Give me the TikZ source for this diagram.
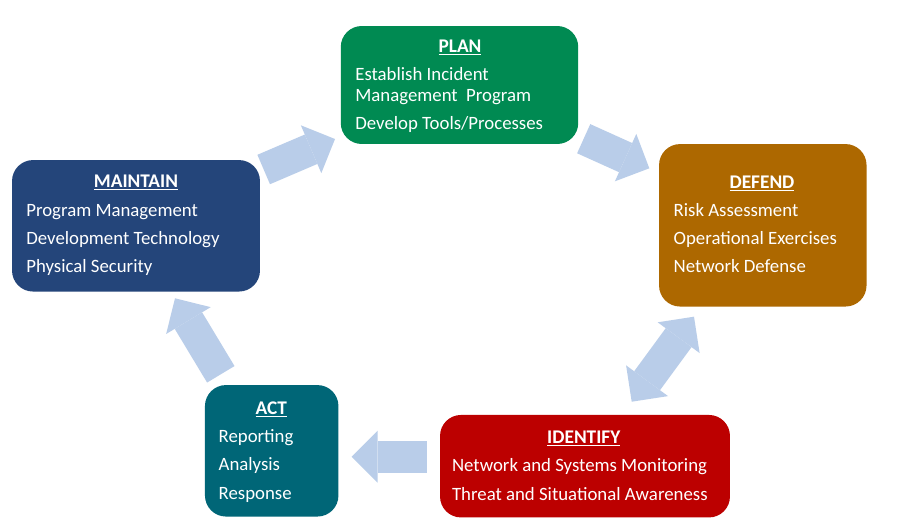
\documentclass[tikz,border=0pt]{standalone}
\usepackage{fontspec}
\setmainfont{Carlito}
\usetikzlibrary{arrows.meta}
\definecolor{plangreen}{RGB}{0,138,82}
\definecolor{defendbrown}{RGB}{173,104,0}
\definecolor{maintainblue}{RGB}{36,69,122}
\definecolor{actteal}{RGB}{0,102,119}
\definecolor{identifyred}{RGB}{188,0,0}
\definecolor{arrowblue}{RGB}{185,205,233}
\tikzset{
  phase/.style={rectangle,rounded corners=0.42cm,inner sep=0pt},
  title/.style={anchor=base,inner sep=0pt,text=white,font=\fontsize{11}{13}\selectfont\bfseries},
  item/.style={anchor=base west,inner sep=0pt,text=white,font=\fontsize{10.7}{13}\selectfont},
  blockarrow/.style={draw=arrowblue,line width=0.64cm,-{Triangle[width=1.04cm,length=0.52cm,line width=0pt]}},
  bothblockarrow/.style={draw=arrowblue,line width=0.64cm,{Triangle[width=1.04cm,length=0.52cm,line width=0pt]}-{Triangle[width=1.04cm,length=0.52cm,line width=0pt]}}
}
\begin{document}
\begin{tikzpicture}[x=0.02cm,y=-0.02cm]
      \useasboundingbox[fill=white] (0,0) rectangle (900,525);
      % the five phases
      \node[phase,fill=plangreen,minimum width=4.75cm,minimum height=2.36cm] (plan) at (459.5,85) {};
      \node[phase,fill=defendbrown,minimum width=4.15cm,minimum height=3.25cm] (defend) at (762.8,225.3) {};
      \node[phase,fill=maintainblue,minimum width=4.96cm,minimum height=2.63cm] (maintain) at (136,225.8) {};
      \node[phase,fill=actteal,minimum width=2.67cm,minimum height=2.63cm] (act) at (271.7,450.8) {};
      \node[phase,fill=identifyred,minimum width=5.8cm,minimum height=2.05cm] (identify) at (585,466.2) {};
      % texts
      \node[title] (plan-t) at (460,52.3) {\underline{PLAN}};
      \node[item] (plan-1) at (355,80) {Establish Incident};
      \node[item] (plan-2) at (355,101) {Management\ \ Program};
      \node[item] (plan-3) at (355,129.3) {Develop Tools/Processes};
      \node[title] (defend-t) at (762,188.3) {\underline{DEFEND}};
      \node[item] (defend-1) at (673.3,216) {Risk Assessment};
      \node[item] (defend-2) at (673.3,244.3) {Operational Exercises};
      \node[item] (defend-3) at (673.3,272.7) {Network Defense};
      \node[title] (maintain-t) at (136,187.3) {\underline{MAINTAIN}};
      \node[item] (maintain-1) at (26,216) {Program Management};
      \node[item] (maintain-2) at (26,244) {Development Technology};
      \node[item] (maintain-3) at (26,272.7) {Physical Security};
      \node[title] (act-t) at (271.3,414) {\underline{ACT}};
      \node[item] (act-1) at (218.3,442.7) {Reporting};
      \node[item] (act-2) at (218.3,470.7) {Analysis};
      \node[item] (act-3) at (218.3,499) {Response};
      \node[title] (identify-t) at (583.8,443.3) {\underline{IDENTIFY}};
      \node[item] (identify-1) at (451.7,471.7) {Network and Systems Monitoring};
      \node[item] (identify-2) at (451.7,500) {Threat and Situational Awareness};
      % arrow ends
      \coordinate (maintain-out) at (263.7,169.5);
      \coordinate (plan-in) at (335,139);
      \coordinate (plan-out) at (583.7,138.7);
      \coordinate (defend-in) at (649.3,168.3);
      \coordinate (defend-end) at (694,316.7);
      \coordinate (identify-end) at (631.7,401.7);
      \coordinate (identify-out) at (426.7,456.7);
      \coordinate (act-in) at (351.7,456.7);
      \coordinate (act-out) at (220.8,374.3);
      \coordinate (maintain-in) at (175,298.3);
      \draw[blockarrow] (maintain-out) -- (plan-in);
      \draw[blockarrow] (plan-out) -- (defend-in);
      \draw[bothblockarrow] (identify-end) -- (defend-end);
      \draw[blockarrow] (identify-out) -- (act-in);
      \draw[blockarrow] (act-out) -- (maintain-in);
    \end{tikzpicture}
\end{document}
